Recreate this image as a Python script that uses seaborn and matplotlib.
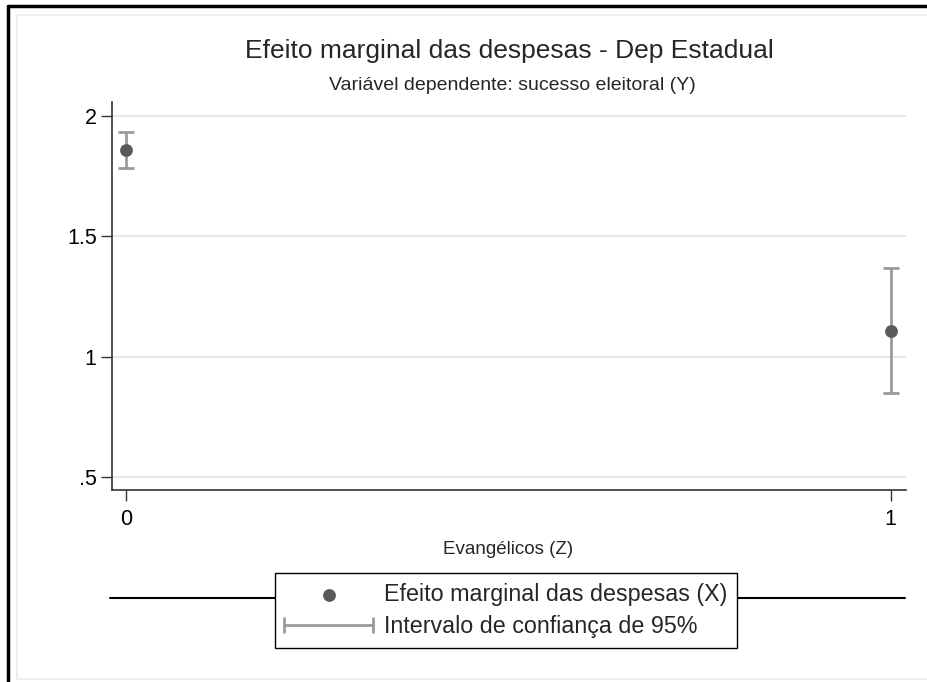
import numpy as np
import pandas as pd
import matplotlib.pyplot as plt
import seaborn as sns
from matplotlib.lines import Line2D
from matplotlib.legend_handler import HandlerLine2D

# values
evangelicos = [0, 1]
efeito = [1.857, 1.108]
ci_low = [1.783, 0.847]
ci_high = [1.932, 1.370]
ytick_vals = [0.5, 1.0, 1.5, 2.0]
ytick_labels = [".5", "1", "1.5", "2"]

df = pd.DataFrame({"z": evangelicos, "efeito": efeito,
                   "lo": ci_low, "hi": ci_high})

sns.set_theme(style="white")
plt.rcParams["font.family"] = ["Liberation Sans", "DejaVu Sans"]

fig = plt.figure(figsize=(9.27, 6.82), dpi=100)
ax = fig.add_axes([112 / 927, 1 - 490 / 682, (906 - 112) / 927, (490 - 102) / 682])

ci_color = "#9a9a9a"
pt_color = "#5a5a5a"

ax.errorbar(df["z"], df["efeito"],
            yerr=[df["efeito"] - df["lo"], df["hi"] - df["efeito"]],
            fmt="none", ecolor=ci_color, elinewidth=2, capsize=6, capthick=2,
            zorder=2)
sns.scatterplot(data=df, x="z", y="efeito", color=pt_color, s=85,
                edgecolor=pt_color, linewidth=0, zorder=3, ax=ax)

ax.set_xlim(-0.018, 1.02)
ax.set_ylim(0.446, 2.058)
ax.set_xticks(evangelicos)
ax.set_xticklabels([str(v) for v in evangelicos])
ax.set_yticks(ytick_vals)
ax.set_yticklabels(ytick_labels)
ax.tick_params(axis="both", direction="out", length=8, width=1,
               color="#333333", labelsize=15.5, labelcolor="black")
ax.tick_params(axis="x", pad=6)
ax.tick_params(axis="y", pad=3)
ax.tick_params(axis="both", which="both", left=True, bottom=True)
ax.yaxis.grid(True, color="#e8e8e8", linewidth=1.5)
ax.xaxis.grid(False)
ax.set_axisbelow(True)
for side in ["top", "right"]:
    ax.spines[side].set_visible(False)
for side in ["left", "bottom"]:
    ax.spines[side].set_color("#333333")
    ax.spines[side].set_linewidth(1.2)

ax.set_xlabel("")
ax.set_ylabel("")
fig.text(508 / 927, 1 - 549 / 682, "Evangélicos (Z)", ha="center", va="center",
         fontsize=13.5)

fig.text(509 / 927, 1 - 51 / 682, "Efeito marginal das despesas - Dep Estadual",
         ha="center", va="center", fontsize=19)
fig.text(512 / 927, 1 - 86 / 682, "Variável dependente: sucesso eleitoral (Y)",
         ha="center", va="center", fontsize=14)

# legend
h_pt = plt.scatter([], [], color=pt_color, s=85, linewidth=0)
h_ci = Line2D([], [], color=ci_color, lw=2, marker="|", markersize=12,
              markeredgewidth=2)
leg = fig.legend([h_pt, h_ci],
                 ["Efeito marginal das despesas (X)",
                  "Intervalo de confiança de 95%"],
                 loc="center", bbox_to_anchor=(506 / 927, 1 - 610.5 / 682),
                 fontsize=16.75, frameon=True, fancybox=False, framealpha=1,
                 edgecolor="black", handlelength=3.83, numpoints=2,
                 scatterpoints=1, borderpad=0.42, labelspacing=0.39,
                 handletextpad=0.47, borderaxespad=0,
                 handler_map={Line2D: HandlerLine2D(marker_pad=0)})
leg.get_frame().set_linewidth(1)
leg.set_zorder(5)

fig.add_artist(Line2D([110 / 927, 905 / 927], [1 - 598 / 682, 1 - 598 / 682],
                      color="black", lw=1.5, zorder=1))

# outer frame like the Stata export
fig.add_artist(Line2D([8 / 927, 8 / 927], [0, 1 - 6 / 682], color="black", lw=2.5))
fig.add_artist(Line2D([8 / 927, 1], [1 - 6 / 682, 1 - 6 / 682], color="black", lw=2.5))
fig.add_artist(Line2D([17 / 927, 17 / 927], [3 / 682, 1 - 15 / 682], color="#eeeeee", lw=1.5))
fig.add_artist(Line2D([17 / 927, 1], [1 - 15 / 682, 1 - 15 / 682], color="#eeeeee", lw=1.5))
fig.add_artist(Line2D([17 / 927, 1], [3 / 682, 3 / 682], color="#eeeeee", lw=1.5))

fig.savefig("out.png", dpi=100, facecolor="white")
